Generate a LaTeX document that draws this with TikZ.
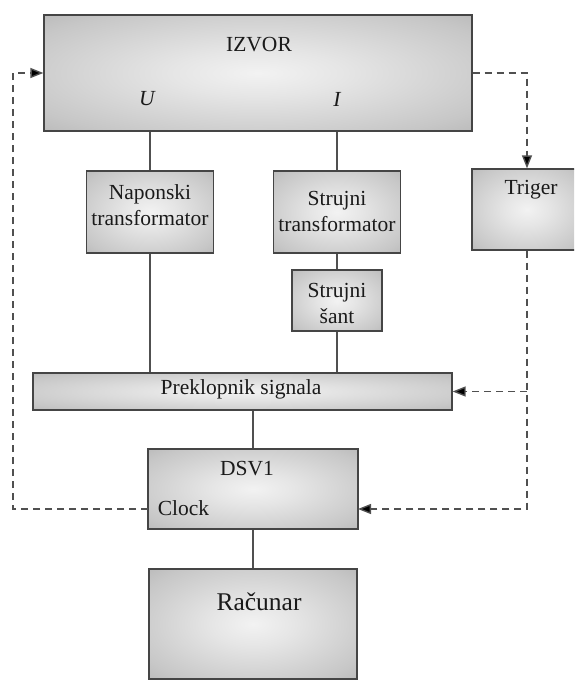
\documentclass[tikz,border=0pt]{standalone}
\usepackage{fontspec}
\setmainfont{Liberation Serif}
\usetikzlibrary{arrows.meta}
\pgfdeclareradialshading{boxshade}{\pgfpoint{0bp}{0bp}}{color(0bp)=(black!5); color(10bp)=(black!10); color(30bp)=(black!22); color(50bp)=(black!38); color(72bp)=(black!48)}
\definecolor{edgecol}{HTML}{454545}
\definecolor{linecol}{HTML}{505050}
\definecolor{txtcol}{HTML}{1A1A1A}
\tikzset{
  blk/.style={rectangle, draw=edgecol, line width=1.3pt, shading=boxshade, inner sep=0pt},
  lbl/.style={text=txtcol, inner sep=0pt, align=center, font=\fontsize{21.5}{26}\selectfont},
  biglbl/.style={text=txtcol, inner sep=0pt, font=\fontsize{25.5}{30}\selectfont},
  wire/.style={draw=linecol, line width=1.3pt},
  dashline/.style={draw=linecol, line width=1.4pt, dash pattern=on 7pt off 5pt},
  tip/.style={-{Triangle[length=13pt,width=10pt,fill=black]}}
}
\begin{document}
\begin{tikzpicture}[x=1pt,y=-1pt]
\useasboundingbox (0,0) rectangle (574,680);
\clip (0,0) rectangle (574,680);
\fill[white] (0,0) rectangle (574,680);
% boxes
\node[blk, minimum width=428pt, minimum height=116pt] (izvor) at (258,73) {};
\node[blk, minimum width=127pt, minimum height=82pt] (nap) at (150,212) {};
\node[blk, minimum width=127pt, minimum height=82pt] (str) at (337,212) {};
\node[blk, minimum width=90pt, minimum height=61pt] (sant) at (337,300.5) {};
\node[blk, minimum width=110pt, minimum height=81pt] (trig) at (527,209.5) {};
\node[blk, minimum width=419pt, minimum height=37pt] (pre) at (242.5,391.5) {};
\node[blk, minimum width=210pt, minimum height=80pt] (dsv) at (253,489) {};
\node[blk, minimum width=208pt, minimum height=110pt] (rac) at (253,624) {};
% texts
\node[lbl] (tizvor) at (259,45) {IZVOR};
\node[lbl] (tu) at (147,99) {\itshape U};
\node[lbl] (ti) at (337,99) {\itshape I};
\node[lbl] (tnap) at (150,205) {Naponski\\transformator};
\node[lbl] (tstr) at (337,211) {Strujni\\transformator};
\node[lbl] (tsant) at (337,303.5) {Strujni\\šant};
\node[lbl] (ttrig) at (531,190) {Triger};
\node[lbl] (tpre) at (241,389) {Preklopnik signala};
\node[lbl] (tdsv) at (247,469) {DSV1};
\node[lbl] (tclk) at (183.5,508) {Clock};
\node[biglbl] (trac) at (259,602) {Računar};
% connection points
\coordinate (clkR) at (358,509);
\coordinate (clkL) at (148,509);
\coordinate (lb) at (13,509);
% solid wires
\draw[wire] (nap.north) -- (izvor.south -| nap.north);
\draw[wire] (nap.south) -- (pre.north -| nap.south);
\draw[wire] (str.north) -- (izvor.south -| str.north);
\draw[wire] (str.south) -- (sant.north);
\draw[wire] (sant.south) -- (pre.north -| sant.south);
\draw[wire] (dsv.north) -- (pre.south -| dsv.north);
\draw[wire] (dsv.south) -- (rac.north);
% dashed control lines
\draw[dashline, tip] (izvor.east) -| (trig.north);
\draw[dashline, tip] (trig.south) |- (clkR);
\draw[dashline, tip] (trig.south |- pre.east) -- (pre.east);
\draw[dashline, tip] (clkL) -- (lb) |- (izvor.west);
\end{tikzpicture}
\end{document}
